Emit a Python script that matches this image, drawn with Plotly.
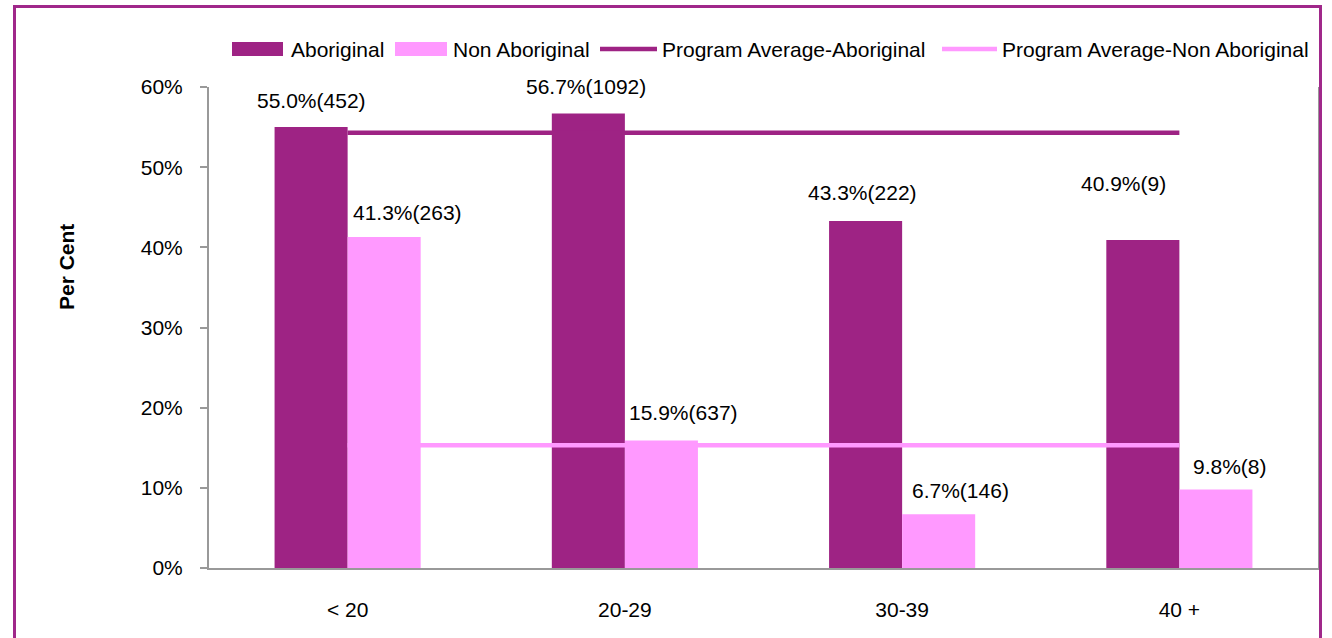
import plotly.graph_objects as go

# Share of clients by age group, with program-wide averages
age_groups = ["< 20", "20-29", "30-39", "40 +"]
aboriginal_pct = [55.0, 56.7, 43.3, 40.9]
aboriginal_n = [452, 1092, 222, 9]
non_aboriginal_pct = [41.3, 15.9, 6.7, 9.8]
non_aboriginal_n = [263, 637, 146, 8]
avg_aboriginal = 54.3
avg_non_aboriginal = 15.3
y_ticks = [0, 10, 20, 30, 40, 50, 60]

DARK = "#9E2384"
PINK = "#FF99FF"
FONT = "Liberation Sans Narrow, Arial Narrow, Liberation Sans, Arial, sans-serif"
FS = 21

W, H = 1332, 638
L, R, T, B = 209, 14, 87, 70
PW, PH = W - L - R, H - T - B


def px_x(p):
    return (p - L) / PW


def px_y(p):
    return (H - B - p) / PH


fig = go.Figure()
fig.add_bar(x=age_groups, y=aboriginal_pct, name="Aboriginal",
            marker=dict(color=DARK, line=dict(width=0)), showlegend=False)
fig.add_bar(x=age_groups, y=non_aboriginal_pct, name="Non Aboriginal",
            marker=dict(color=PINK, line=dict(width=0)), showlegend=False)
fig.add_scatter(x=age_groups, y=[avg_aboriginal] * len(age_groups), mode="lines",
                name="Program Average-Aboriginal", line=dict(color=DARK, width=4.5),
                showlegend=False)
fig.add_scatter(x=age_groups, y=[avg_non_aboriginal] * len(age_groups), mode="lines",
                name="Program Average-Non Aboriginal", line=dict(color=PINK, width=4.5),
                showlegend=False)

# value labels: percentage with count in brackets
ab_shift = [(0, 27), (-2, 27), (-3, 28), (-19, 57)]
non_shift = [(23, 24), (22, 28), (22, 24), (14, 23)]
annotations = []
for i, g in enumerate(age_groups):
    dx, dy = ab_shift[i]
    annotations.append(dict(x=g, y=aboriginal_pct[i], xref="x", yref="y",
                            text=f"{aboriginal_pct[i]:.1f}%({aboriginal_n[i]})",
                            showarrow=False, xshift=-36.5 + dx, yshift=dy,
                            xanchor="center", yanchor="middle",
                            font=dict(family=FONT, size=FS, color="black")))
    dx, dy = non_shift[i]
    annotations.append(dict(x=g, y=non_aboriginal_pct[i], xref="x", yref="y",
                            text=f"{non_aboriginal_pct[i]:.1f}%({non_aboriginal_n[i]})",
                            showarrow=False, xshift=36.5 + dx, yshift=dy,
                            xanchor="center", yanchor="middle",
                            font=dict(family=FONT, size=FS, color="black")))

# axis title
annotations.append(dict(x=px_x(66), y=px_y(267), xref="paper", yref="paper",
                        text="<b>Per Cent</b>", textangle=-90, showarrow=False,
                        xanchor="center", yanchor="middle",
                        font=dict(family=FONT, size=FS, color="black")))

# legend row
shapes = []
legend_items = [
    ("rect", DARK, 232, 283, "Aboriginal", 289),
    ("rect", PINK, 395, 447, "Non Aboriginal", 451),
    ("line", DARK, 600, 657, "Program Average-Aboriginal", 660),
    ("line", PINK, 942, 997, "Program Average-Non Aboriginal", 1000),
]
for kind, col, x0, x1, label, tx in legend_items:
    if kind == "rect":
        shapes.append(dict(type="rect", xref="paper", yref="paper",
                           x0=px_x(x0), x1=px_x(x1), y0=px_y(56), y1=px_y(42),
                           fillcolor=col, line=dict(width=0), layer="above"))
    else:
        shapes.append(dict(type="line", xref="paper", yref="paper",
                           x0=px_x(x0), x1=px_x(x1), y0=px_y(49), y1=px_y(49),
                           line=dict(color=col, width=4.5), layer="above"))
    annotations.append(dict(x=px_x(tx), y=px_y(49), xref="paper", yref="paper",
                            text=label, showarrow=False, xanchor="left",
                            yanchor="middle",
                            font=dict(family=FONT, size=FS, color="black")))

# outer frame
shapes.append(dict(type="rect", xref="paper", yref="paper",
                   x0=px_x(14.5), x1=px_x(1320.5), y0=px_y(660), y1=px_y(6.5),
                   line=dict(color="#A0288A", width=3), fillcolor="rgba(0,0,0,0)",
                   layer="above"))

fig.update_layout(
    width=W, height=H,
    margin=dict(l=L, r=R, t=T, b=B, pad=0),
    barmode="group", bargap=0.473, bargroupgap=0,
    plot_bgcolor="white", paper_bgcolor="white",
    font=dict(family=FONT, size=FS, color="black"),
    annotations=annotations, shapes=shapes,
)
fig.update_xaxes(showline=True, linecolor="#999999", linewidth=2,
                 showgrid=False, ticks="", ticklabelstandoff=22,
                 tickfont=dict(family=FONT, size=FS, color="black"),
                 fixedrange=True)
fig.update_yaxes(range=[0, 60], tickvals=y_ticks,
                 ticktext=[f"{v}%" for v in y_ticks],
                 showline=True, linecolor="#999999", linewidth=2, mirror=True,
                 showgrid=False, zeroline=False, ticks="outside", ticklen=7,
                 tickcolor="#999999", tickwidth=2, ticklabelstandoff=13,
                 tickfont=dict(family=FONT, size=FS, color="black"),
                 fixedrange=True)

fig.write_html("out.html")
